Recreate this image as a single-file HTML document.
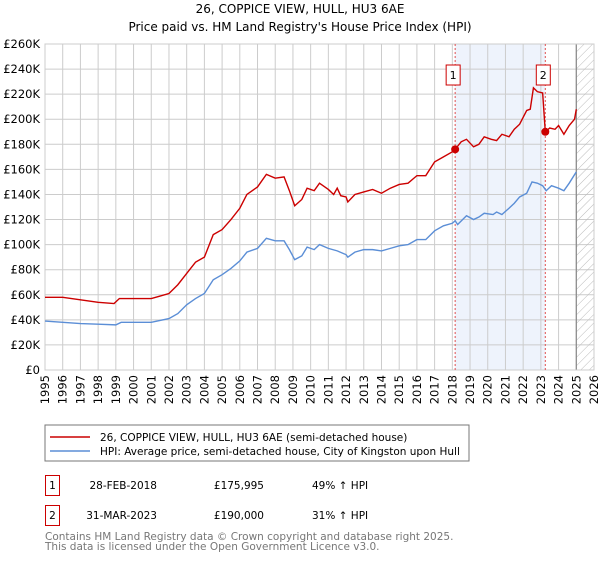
<!DOCTYPE html>
<html><head><meta charset="utf-8"><style>
body{margin:0;background:#fff;font-family:"DejaVu Sans","Liberation Sans",sans-serif;}
svg text{font-family:"DejaVu Sans","Liberation Sans",sans-serif;}
</style></head><body>
<svg id="c" width="600" height="560" xmlns="http://www.w3.org/2000/svg">
<defs><pattern id="h" width="6" height="6" patternUnits="userSpaceOnUse" patternTransform="rotate(45)"><line x1="0" y1="0" x2="0" y2="6" stroke="#bbb" stroke-width="1"/></pattern></defs>
<text x="300" y="13" text-anchor="middle" font-size="12">26, COPPICE VIEW, HULL, HU3 6AE</text>
<text x="300" y="31" text-anchor="middle" font-size="12">Price paid vs. HM Land Registry's House Price Index (HPI)</text>
<g id="plot"></g>
<rect x="45" y="425" width="424" height="36" fill="#fff" stroke="#777"/>
<line x1="50" y1="437" x2="90" y2="437" stroke="#cc0000" stroke-width="1.5"/>
<text x="100" y="441" font-size="10.5">26, COPPICE VIEW, HULL, HU3 6AE (semi-detached house)</text>
<line x1="50" y1="451" x2="90" y2="451" stroke="#5b8ed6" stroke-width="1.5"/>
<text x="100" y="455" font-size="10.5">HPI: Average price, semi-detached house, City of Kingston upon Hull</text>
<g font-size="10.5">
<rect x="45.5" y="475.5" width="14" height="20" fill="none" stroke="#cc0000"/>
<text x="52.5" y="489" text-anchor="middle">1</text>
<text x="157" y="489" text-anchor="end">28-FEB-2018</text>
<text x="264" y="489" text-anchor="end">£175,995</text>
<text x="312" y="489">49% ↑ HPI</text>
<rect x="45.5" y="505.5" width="14" height="20" fill="none" stroke="#cc0000"/>
<text x="52.5" y="519" text-anchor="middle">2</text>
<text x="157" y="519" text-anchor="end">31-MAR-2023</text>
<text x="264" y="519" text-anchor="end">£190,000</text>
<text x="312" y="519">31% ↑ HPI</text>
</g>
<text x="45" y="540" font-size="10.5" fill="#777">Contains HM Land Registry data © Crown copyright and database right 2025.</text>
<text x="45" y="550" font-size="10.5" fill="#777">This data is licensed under the Open Government Licence v3.0.</text>
</svg>
<script>
const yTicks=[0,20,40,60,80,100,120,140,160,180,200,220,240,260];
const yLabels=["£0","£20K","£40K","£60K","£80K","£100K","£120K","£140K","£160K","£180K","£200K","£220K","£240K","£260K"];
const years=[1995,1996,1997,1998,1999,2000,2001,2002,2003,2004,2005,2006,2007,2008,2009,2010,2011,2012,2013,2014,2015,2016,2017,2018,2019,2020,2021,2022,2023,2024,2025,2026];
const propT=[1995,1996,1997,1998,1998.9,1999.2,2000,2001,2001.5,2002,2002.5,2003,2003.5,2004,2004.5,2005,2005.5,2006,2006.4,2007,2007.5,2008,2008.5,2008.8,2009.1,2009.5,2009.8,2010.2,2010.5,2011,2011.3,2011.5,2011.7,2012,2012.1,2012.5,2013,2013.5,2014,2014.5,2015,2015.5,2016,2016.5,2017,2017.5,2018,2018.16,2018.5,2018.8,2019.2,2019.5,2019.8,2020.2,2020.5,2020.8,2021.2,2021.5,2021.8,2022.2,2022.4,2022.58,2022.8,2023.1,2023.25,2023.5,2023.8,2024,2024.3,2024.6,2024.9,2025];
const propV=[58,58,56,54,53,57,57,57,59,61,68,77,86,90,108,112,120,129,140,146,156,153,154,143,131,136,145,143,149,144,140,145,139,138,134,140,142,144,141,145,148,149,155,155,166,170,174,176,182,184,178,180,186,184,183,188,186,192,196,207,208,225,222,221,190,193,192,195,188,195,200,208];
const hpiT=[1995,1997,1998,1999,1999.3,2001,2002,2002.5,2003,2003.5,2004,2004.5,2005,2005.5,2006,2006.4,2007,2007.5,2008,2008.5,2008.8,2009.1,2009.5,2009.8,2010.2,2010.5,2011,2011.5,2012,2012.1,2012.5,2013,2013.5,2014,2014.5,2015,2015.5,2016,2016.5,2017,2017.5,2018,2018.16,2018.3,2018.8,2019.2,2019.5,2019.8,2020.3,2020.5,2020.8,2021.2,2021.5,2021.8,2022.2,2022.5,2022.8,2023.1,2023.3,2023.6,2024,2024.3,2024.6,2025];
const hpiV=[39,37,36.5,36,38,38,41,45,52,57,61,72,76,81,87,94,97,105,103,103,96,88,91,98,96,100,97,95,92,90,94,96,96,95,97,99,100,104,104,111,115,117,119,116,123,120,122,125,124,126,124,129,133,138,141,150,149,147,143,147,145,143,149,158];
const saleT=[2018.16,2023.25];
const saleV=[175.995,190];
const saleLabels=["1","2"];
const L=45,R=594,T=44,B=370;
const x=t=>L+(t-1995)/(2026-1995)*(R-L);
const y=v=>B-v/260*(B-T);
const NS="http://www.w3.org/2000/svg";
const g=document.getElementById('plot');
function mk(tag,attrs,parent){const e=document.createElementNS(NS,tag);for(const k in attrs)e.setAttribute(k,attrs[k]);(parent||g).appendChild(e);return e;}
let sh=mk('rect',{x:x(saleT[0]),y:T,width:x(saleT[1])-x(saleT[0]),height:B-T,fill:'#eef3fc'});


years.forEach(yr=>{let l=mk('line',{x1:x(yr),x2:x(yr),y1:T,y2:B,stroke:'#ccc','stroke-width':1});


const tx=x(yr)+4, ty=B+5;
let t=mk('text',{x:tx,y:ty,'text-anchor':'end','font-size':11.5,transform:'rotate(-90 '+tx+' '+ty+')'});t.textContent=yr;

});
yTicks.forEach((v,i)=>{let l=mk('line',{x1:L,x2:R,y1:y(v),y2:y(v),stroke:'#ccc','stroke-width':1});


let t=mk('text',{x:L-5,y:y(v)+4,'text-anchor':'end','font-size':11.5});t.textContent=yLabels[i];

});
let hr=mk('rect',{x:x(2025),y:T,width:R-x(2025),height:B-T,fill:'url(#h)'});


let fl=mk('line',{x1:x(2025),x2:x(2025),y1:T,y2:B,stroke:'#888','stroke-width':1.2});


let fr=mk('rect',{x:L,y:T,width:R-L,height:B-T,fill:'none',stroke:'#ccc'});


saleT.forEach((t,i)=>{let l=mk('line',{x1:x(t),x2:x(t),y1:T,y2:B,stroke:'#e05050','stroke-dasharray':'2,2','stroke-width':1});


let b=mk('rect',{x:x(t)-9,y:65,width:14,height:20,fill:'#fff',stroke:'#cc0000'});


let tx=mk('text',{x:x(t)-2,y:79,'text-anchor':'middle','font-size':11});tx.textContent=saleLabels[i];

});
function line(ts,vs,col,name){let p=mk('polyline',{points:ts.map((t,i)=>x(t)+','+y(vs[i])).join(' '),fill:'none',stroke:col,'stroke-width':1.4});

}
line(hpiT,hpiV,'#5b8ed6','hpi-line');
line(propT,propV,'#cc0000','property-line');
saleT.forEach((t,i)=>{let c=mk('circle',{cx:x(t),cy:y(saleV[i]),r:4,fill:'#cc0000'});

});
</script>
</body></html>
